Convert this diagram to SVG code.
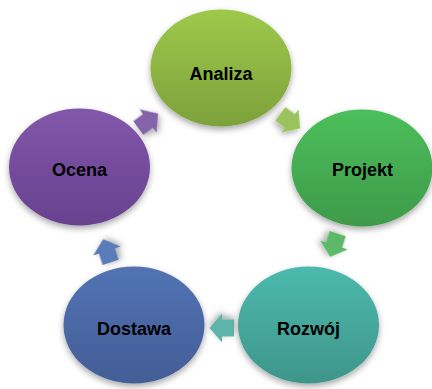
<svg xmlns="http://www.w3.org/2000/svg" width="432" height="389" viewBox="0 0 432 389">
<defs>
<filter id="sh" x="-20%" y="-20%" width="140%" height="150%">
<feDropShadow dx="0" dy="3" stdDeviation="3" flood-color="#000" flood-opacity="0.35"/>
</filter>
<linearGradient id="g1" x1="0" y1="0" x2="0" y2="1"><stop offset="0" stop-color="#9DC94B"/><stop offset="1" stop-color="#7DA13B"/></linearGradient>
<linearGradient id="g2" x1="0" y1="0" x2="0" y2="1"><stop offset="0" stop-color="#4CBF5B"/><stop offset="1" stop-color="#3E9A4A"/></linearGradient>
<linearGradient id="g3" x1="0" y1="0" x2="0" y2="1"><stop offset="0" stop-color="#4DB9AD"/><stop offset="1" stop-color="#3E958A"/></linearGradient>
<linearGradient id="g4" x1="0" y1="0" x2="0" y2="1"><stop offset="0" stop-color="#5273B3"/><stop offset="1" stop-color="#425D96"/></linearGradient>
<linearGradient id="g5" x1="0" y1="0" x2="0" y2="1"><stop offset="0" stop-color="#8157AA"/><stop offset="1" stop-color="#68418F"/></linearGradient>
<path id="arr" d="M-12,-8.5 H0 V-14.5 L12.5,0 L0,14.5 V8.5 H-12 Z"/>
</defs>
<style>
.lbl{font-family:"Liberation Sans",Arial,sans-serif;font-weight:bold;font-size:18px;fill:#000;text-anchor:middle}
.node ellipse{filter:url(#sh)}
.conn use{filter:url(#sh)}
</style>
<g id="connectors" class="conn">
<use href="#arr" transform="translate(290,121) rotate(36)" fill="#9BC35B"/>
<use href="#arr" transform="translate(334,245) rotate(108)" fill="#5DB868"/>
<use href="#arr" transform="translate(222,328) rotate(180)" fill="#5BB5A8"/>
<use href="#arr" transform="translate(107,251) rotate(252)" fill="#5A7CB8"/>
<use href="#arr" transform="translate(148,121) rotate(324)" fill="#8563AA"/>
</g>
<g id="analiza" class="node">
<ellipse cx="221" cy="68" rx="70.5" ry="58.5" fill="url(#g1)"/>
<text class="lbl" x="221" y="80">Analiza</text>
</g>
<g id="projekt" class="node">
<ellipse cx="362" cy="168" rx="70.5" ry="58.5" fill="url(#g2)"/>
<text class="lbl" x="362.5" y="176">Projekt</text>
</g>
<g id="rozwoj" class="node">
<ellipse cx="308.5" cy="325" rx="70.5" ry="58.5" fill="url(#g3)"/>
<text class="lbl" x="308.5" y="335">Rozwój</text>
</g>
<g id="dostawa" class="node">
<ellipse cx="134" cy="325" rx="70.5" ry="58.5" fill="url(#g4)"/>
<text class="lbl" x="134" y="335">Dostawa</text>
</g>
<g id="ocena" class="node">
<ellipse cx="79.5" cy="167" rx="70.5" ry="58.5" fill="url(#g5)"/>
<text class="lbl" x="79.5" y="176">Ocena</text>
</g>
</svg>
